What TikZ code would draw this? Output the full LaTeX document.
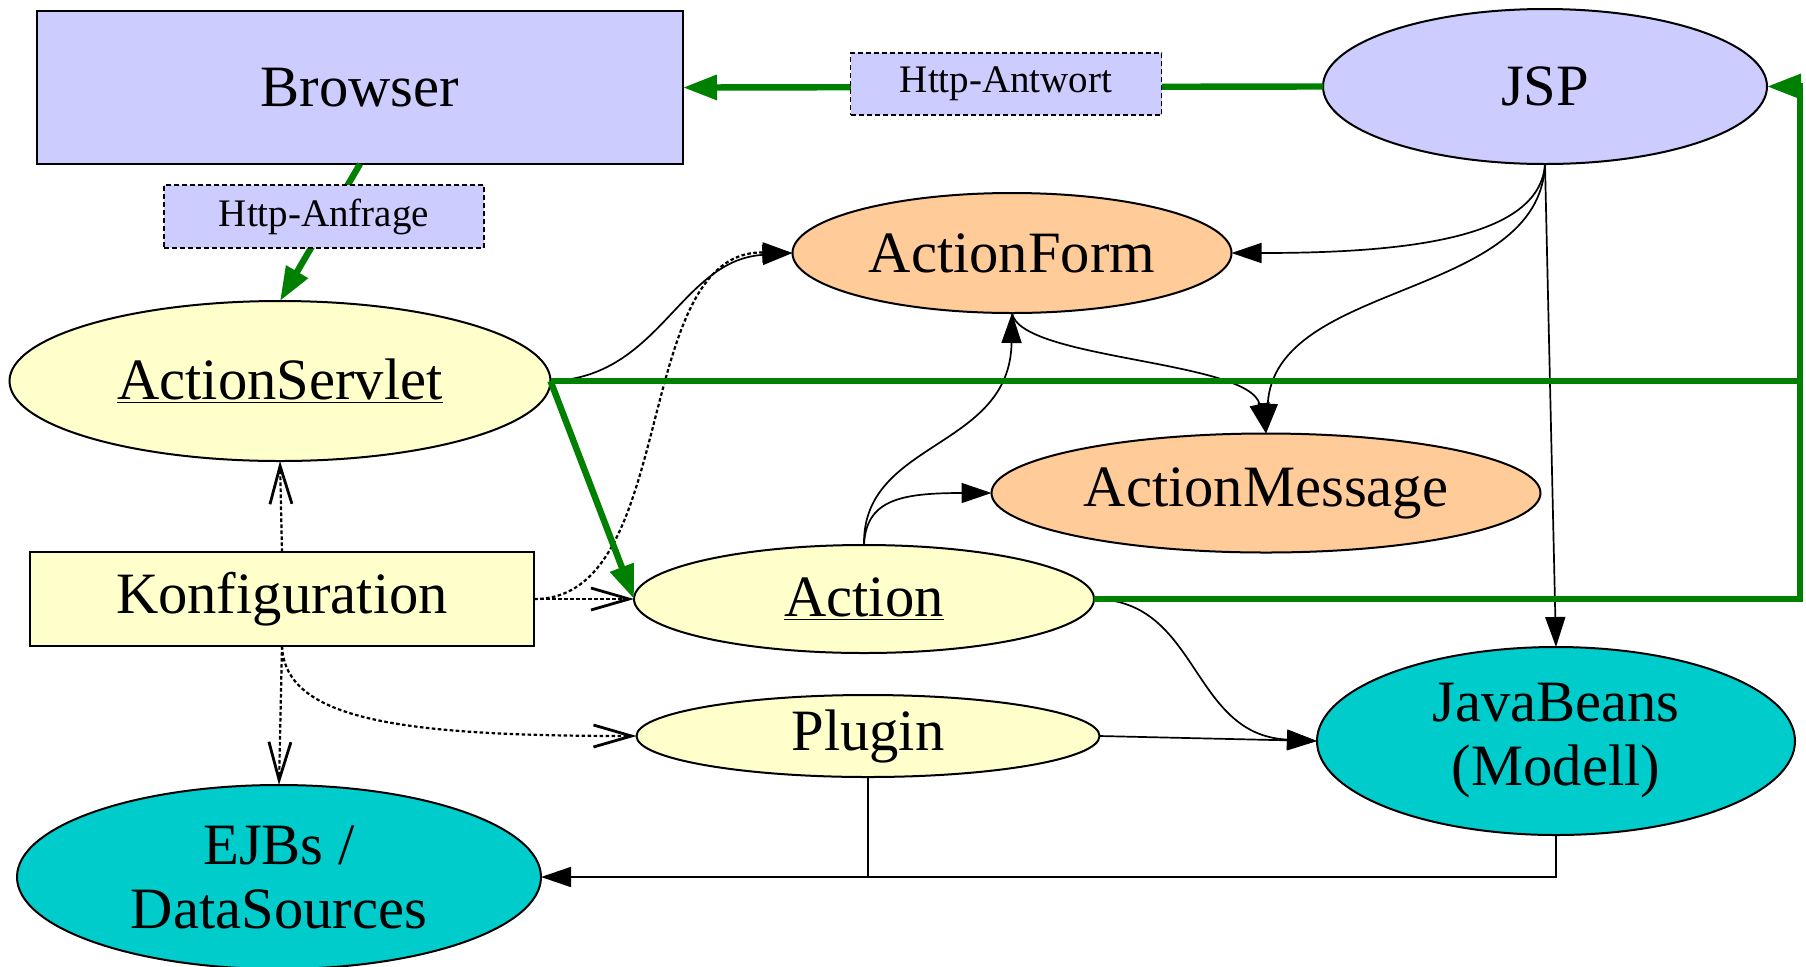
\documentclass[tikz,border=0pt]{standalone}
\usepackage{fontspec}
\setmainfont{Liberation Serif}
\usetikzlibrary{shapes.geometric,arrows.meta}
\definecolor{lav}{HTML}{CCCCFF}
\definecolor{lyel}{HTML}{FFFFCC}
\definecolor{lora}{HTML}{FFCC99}
\definecolor{tcyan}{HTML}{00CCCC}
\definecolor{dgreen}{HTML}{008000}
\begin{document}
\begin{tikzpicture}[x=0.5pt,y=-0.5pt,
  every node/.style={inner sep=0pt, outer sep=0pt},
  big/.style={font=\fontsize{29.3}{32}\selectfont},
  small/.style={font=\fontsize{19.5}{22}\selectfont},
  ell/.style={ellipse, draw=black, line width=1pt, big},
  rbox/.style={rectangle, draw=black, line width=1pt, big},
  lbl/.style={rectangle, draw=black, dash pattern=on 2.5pt off 1.5pt, line width=0.9pt, fill=lav, small},
  blk/.style={line width=0.85pt, -{Triangle[length=15pt,width=10pt]}},
  conf/.style={line width=1.1pt, dash pattern=on 1.8pt off 1.2pt, -{Straight Barb[length=19pt,width=11pt,line width=1.4pt]}},
  confb/.style={line width=1.1pt, dash pattern=on 1.8pt off 1.2pt, -{Triangle[length=15pt,width=10pt]}},
  grnline/.style={draw=dgreen, line width=3.2pt},
  grn/.style={grnline, -{Triangle[length=17pt,width=12pt]}}
]
\useasboundingbox (0,0) rectangle (1806,966);

% nodes
\node[rbox, fill=lav, minimum width=323pt, minimum height=76.5pt] (browser) at (360,87.5) {Browser};
\node[ell, fill=lav, minimum width=222pt, minimum height=77.5pt] (jsp) at (1545,86.5) {JSP};
\node[ell, fill=lyel, minimum width=270.5pt, minimum height=80pt] (asv) at (280,381) {\underline{ActionServlet}};
\node[rbox, fill=lyel, minimum width=252pt, minimum height=47pt] (konf) at (282,599) {Konfiguration};
\node[ell, fill=lora, minimum width=219.5pt, minimum height=60pt] (aform) at (1012,253) {ActionForm};
\node[ell, fill=lora, minimum width=274.5pt, minimum height=59.5pt] (amsg) at (1266,493) {ActionMessage};
\node[ell, fill=lyel, minimum width=230pt, minimum height=54pt] (action) at (864,599) {\underline{Action}};
\node[ell, fill=lyel, minimum width=231.5pt, minimum height=41pt] (plugin) at (868,736) {Plugin};
\node[ell, fill=tcyan, minimum width=239pt, minimum height=94pt, align=center] (jb) at (1556,741) {JavaBeans\\(Modell)};
\node[ell, fill=tcyan, minimum width=262pt, minimum height=92pt, align=center] (ejb) at (279,877) {EJBs /\\DataSources};

\coordinate (gr1) at (1800,381);

% black edges
\draw[blk] (asv.east) .. controls (660,378) and (680,260) .. (aform.west);
\draw[blk] (action.north) .. controls (862,440) and (1010,450) .. (aform.south);
\draw[blk] (action.north) .. controls (866,500) and (900,493) .. (amsg.west);
\draw[blk] (aform.south) .. controls (1020,360) and (1250,360) .. (amsg.north);
\draw[blk] (jsp.south) .. controls (1540,300) and (1275,280) .. (amsg.north);
\draw[blk] (jsp.south) .. controls (1540,240) and (1400,253) .. (aform.east);
\draw[blk] (jsp.south) -- (jb.north);
\draw[blk] (action.east) .. controls (1200,600) and (1190,735) .. (jb.west);
\draw[blk] (plugin.east) -- (jb.west);
\draw[blk] (jb.south) |- (ejb.east);
\draw[line width=0.85pt] (plugin.south) -- (plugin.south |- ejb.east);

% configuration edges
\draw[conf] (konf.north) -- (asv.south);
\draw[conf] (konf.south) -- (ejb.north);
\draw[conf] (konf.east) -- (action.west);
\draw[conf] (konf.south) .. controls (285,720) and (400,736) .. (plugin.west);
\draw[confb] (konf.east) .. controls (680,600) and (630,250) .. (aform.west);

% green edges
\draw[grn] (jsp.west) -- (browser.east);
\draw[grn] (browser.south) -- (asv.north);
\draw[grn] (asv.east) -- (action.west);
\draw[grn, line join=miter] (asv.east) -- (gr1) |- (jsp.east);
\draw[grnline, line join=miter] (action.east) -| (gr1);

% labels
\node[lbl, minimum width=160pt, minimum height=31.5pt] (lreq) at (324,216.5) {Http-Anfrage};
\node[lbl, minimum width=155.5pt, minimum height=31pt] (lresp) at (1006,84) {Http-Antwort};
\end{tikzpicture}
\end{document}
